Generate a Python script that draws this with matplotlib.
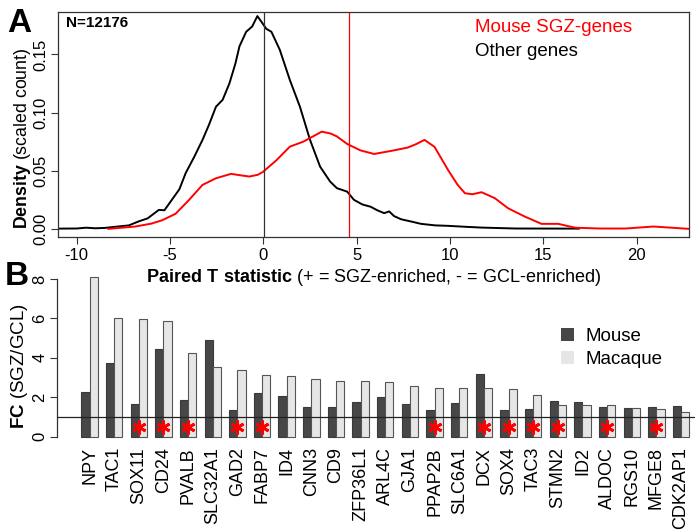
import matplotlib
matplotlib.use("Agg")
import matplotlib.pyplot as plt
from matplotlib.patches import Patch
import numpy as np

plt.rcParams['font.family'] = ['Liberation Sans', 'DejaVu Sans']
plt.rcParams['mathtext.fontset'] = 'custom'
plt.rcParams['mathtext.rm'] = 'Liberation Sans'
plt.rcParams['mathtext.bf'] = 'Liberation Sans:bold'
plt.rcParams['axes.unicode_minus'] = False

# ---------------- Panel A data (density curves) ----------------
other_x = [-11.1, -10, -9.5, -9, -8.5, -7.8, -7.2, -6.7, -6.2, -5.6, -5.3, -4.9, -4.5,
           -4.16, -3.7, -3.26, -2.9, -2.54, -2.18, -1.82, -1.5, -1.28, -0.92, -0.6,
           -0.32, -0.1, 0.16, 0.43, 0.88, 1.42, 1.96, 2.5, 3.04, 3.58, 3.94, 4.49,
           4.85, 5.3, 5.75, 6.1, 6.47, 6.74, 7.0, 7.37, 8.0, 8.45, 9.2, 9.89, 10.8,
           11.69, 13.5, 16.9]
other_y = [0.0002, 0.0003, 0.001, 0.0005, 0.0008, 0.002, 0.003, 0.0063, 0.009, 0.0163,
           0.016, 0.025, 0.034, 0.048, 0.062, 0.0765, 0.09, 0.105, 0.111, 0.125, 0.142,
           0.157, 0.1695, 0.174, 0.183, 0.178, 0.172, 0.1695, 0.154, 0.128, 0.105,
           0.0765, 0.0535, 0.0406, 0.035, 0.032, 0.025, 0.021, 0.019, 0.016, 0.0135,
           0.015, 0.011, 0.0083, 0.006, 0.0043, 0.003, 0.0026, 0.0018, 0.0011, 0.0003,
           0.0002]
sgz_x = [-8.3, -6.86, -6.0, -5.42, -4.7, -3.98, -3.26, -2.54, -1.73, -1.2, -0.74, -0.3,
         -0.02, 0.7, 1.42, 2.14, 2.6, 3.13, 3.6, 3.94, 4.49, 5.2, 5.93, 6.83, 7.73, 8.2,
         8.63, 9.17, 9.89, 10.4, 10.8, 11.2, 11.69, 12.4, 13.1, 14.0, 14.9, 15.8, 16.7,
         18.0, 19.4, 20.9, 22.8]
sgz_y = [0.0, 0.002, 0.0045, 0.0074, 0.013, 0.0249, 0.0378, 0.0435, 0.0473, 0.046,
         0.045, 0.0465, 0.049, 0.059, 0.0707, 0.075, 0.079, 0.0836, 0.082, 0.0795,
         0.073, 0.0675, 0.0644, 0.067, 0.0699, 0.073, 0.0765, 0.0705, 0.0507, 0.038,
         0.0306, 0.0298, 0.0315, 0.0264, 0.0178, 0.0106, 0.0043, 0.0043, 0.001,
         0.0003, 0.0003, 0.002, 0.0]
vline_zero = 0.05
vline_sgz = 4.6
a_xticks = [-10, -5, 0, 5, 10, 15, 20]
a_yticks = [0.00, 0.05, 0.10, 0.15]

# ---------------- Panel B data ----------------
genes = ["NPY", "TAC1", "SOX11", "CD24", "PVALB", "SLC32A1", "GAD2", "FABP7", "ID4",
         "CNN3", "CD9", "ZFP36L1", "ARL4C", "GJA1", "PPAP2B", "SLC6A1", "DCX", "SOX4",
         "TAC3", "STMN2", "ID2", "ALDOC", "RGS10", "MFGE8", "CDK2AP1"]
mouse = [2.27, 3.73, 1.64, 4.46, 1.83, 4.90, 1.34, 2.20, 2.08, 1.51, 1.51, 1.76, 2.03,
         1.66, 1.34, 1.71, 3.17, 1.37, 1.39, 1.81, 1.75, 1.49, 1.44, 1.51, 1.54]
macaque = [8.12, 6.00, 5.98, 5.85, 4.24, 3.53, 3.36, 3.12, 3.08, 2.92, 2.81, 2.80, 2.75,
           2.59, 2.46, 2.46, 2.44, 2.39, 2.12, 1.61, 1.59, 1.58, 1.47, 1.39, 1.24]
starred = ["SOX11", "CD24", "PVALB", "GAD2", "FABP7", "PPAP2B", "DCX", "SOX4", "TAC3",
           "STMN2", "ALDOC", "MFGE8"]
b_yticks = [0, 2, 4, 6, 8]

W, H = 700, 531
fig = plt.figure(figsize=(7.0, 5.31), dpi=100)

def fx(px):
    return px / W

def fy(py):
    return 1 - py / H

# ---------------- Panel A ----------------
axA = fig.add_axes([fx(58), fy(237), fx(689) - fx(58), fy(12) - fy(237)])
axA.plot(other_x, other_y, color='black', lw=1.4)
axA.plot(sgz_x, sgz_y, color='#ff0000', lw=1.4)
axA.axvline(vline_zero, color='#333333', lw=0.9)
axA.axvline(vline_sgz, color='#ff0000', lw=0.9)
axA.set_xlim(-11.0, 22.8)
axA.set_ylim(-0.007, 0.1865)
axA.set_xticks(a_xticks)
axA.set_xticklabels([str(v) for v in a_xticks])
axA.set_yticks(a_yticks)
axA.set_yticklabels(["%.2f" % v for v in a_yticks])
axA.tick_params(axis='both', direction='out', length=5, width=0.8, labelsize=12,
                color='#333333')
axA.tick_params(axis='x', pad=3)
axA.tick_params(axis='y', pad=2, labelrotation=90)
for lab in axA.get_yticklabels():
    lab.set_va('center')
for s in axA.spines.values():
    s.set_linewidth(0.9)
    s.set_color('#333333')
fig.text(fx(23), fy(138), r"$\mathbf{Density}$ (scaled count)", fontsize=12.8,
         rotation=90, ha='center', va='center')
axA.text(0.013, 0.95, "N=12176", transform=axA.transAxes, fontsize=11,
         fontweight='bold', ha='left', va='center')
fig.text(fx(475), fy(27), "Mouse SGZ-genes", color='#ff0000', fontsize=13.5,
         ha='left', va='center')
fig.text(fx(475), fy(52), "Other genes", color='black', fontsize=13.5,
         ha='left', va='center')
fig.text(fx(7), fy(32), "A", fontsize=24, fontweight='bold', ha='left',
         va='baseline')

# ---------------- Panel B ----------------
axB = fig.add_axes([fx(57), fy(442.8), fx(695) - fx(57), fy(272.7) - fy(442.8)])
axB.patch.set_visible(False)
n = len(genes)
idx = np.arange(n)
mouse_left = 1 + 3 * idx
mac_left = 2 + 3 * idx
mouse_col = '#474747'
mac_col = '#e6e6e6'
axB.bar(mouse_left, mouse, width=1, align='edge', color=mouse_col,
        edgecolor='#3a3a3a', linewidth=0.8, zorder=2)
axB.bar(mac_left, macaque, width=1, align='edge', color=mac_col,
        edgecolor='#555555', linewidth=0.8, zorder=2)
axB.axhline(1, color='#222222', lw=0.9, zorder=3)
star_pos = [2 + 3 * genes.index(g) for g in starred]
axB.plot(star_pos, [0.46] * len(star_pos), linestyle='none', marker=(6, 2, 0),
         markersize=10, markeredgewidth=2.0, color='#ff0000', zorder=4)
axB.set_xlim(-1.96, 75.7)
axB.set_ylim(-0.32, 8.32)
axB.set_xticks(2 + 3 * idx)
axB.set_xticklabels(genes, rotation=90, fontsize=13)
axB.tick_params(axis='x', length=0, pad=3)
axB.set_yticks(b_yticks)
axB.set_yticklabels([str(v) for v in b_yticks])
axB.tick_params(axis='y', direction='out', length=5, width=0.8, labelsize=12,
                pad=2, labelrotation=90, color='#333333')
for lab in axB.get_yticklabels():
    lab.set_va('center')
for side in ['top', 'right', 'bottom']:
    axB.spines[side].set_visible(False)
axB.spines['left'].set_bounds(0, 8)
axB.spines['left'].set_linewidth(0.9)
axB.spines['left'].set_color('#333333')
fig.text(fx(20), fy(366), r"$\mathbf{FC}$ (SGZ/GCL)", fontsize=13.5, rotation=90,
         ha='center', va='center')
fig.text(fx(5), fy(285), "B", fontsize=24, fontweight='bold', ha='left',
         va='baseline')
axB.legend(handles=[Patch(facecolor=mouse_col, edgecolor='none'),
                    Patch(facecolor=mac_col, edgecolor='none')],
           labels=["Mouse", "Macaque"], loc='upper left',
           bbox_to_anchor=(fx(561), fy(328)), bbox_transform=fig.transFigure,
           frameon=False, fontsize=13.5, handlelength=0.7, handleheight=0.7,
           handletextpad=0.6, labelspacing=0.3, borderpad=0, borderaxespad=0)

# x-axis title of panel A (sits in the gap between the two panels)
fig.text(fx(374), fy(278),
         r"$\mathbf{Paired\ T\ statistic}$ (+ = SGZ-enriched, - = GCL-enriched)",
         fontsize=13, ha='center', va='center', zorder=5)

fig.savefig("out.png", dpi=100)
